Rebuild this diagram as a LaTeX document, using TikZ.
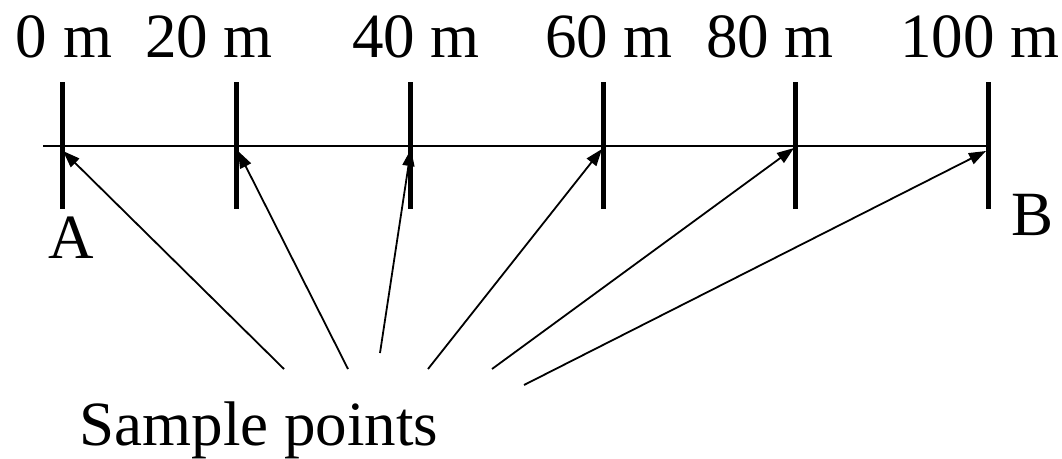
\documentclass[tikz,border=0pt]{standalone}
\usepackage{fontspec}
\setmainfont{Liberation Serif}
\usetikzlibrary{arrows.meta}
\begin{document}
\begin{tikzpicture}[x=1pt,y=-1pt,
  lbl/.style={inner sep=0pt,anchor=base,font=\fontsize{63}{70}\selectfont},
  tickline/.style={line width=5pt},
  axisline/.style={line width=2.5pt},
  ptr/.style={line width=1.8pt,-{Triangle[length=17pt,width=12pt]}}]
\useasboundingbox (0,0) rectangle (1062,458);
% axis
\coordinate (L) at (43,146);
\coordinate (R) at (988,146);
\draw[axisline] (L) -- (R);
% ticks
\foreach \n/\x in {0/62,1/236,2/410,3/603,4/795,5/988}{
  \coordinate (t\n) at (\x,146);
  \coordinate (tt\n) at (\x,82);
  \coordinate (tb\n) at (\x,209);
  \draw[tickline] (tt\n) -- (tb\n);
}
% labels
\node[lbl] (l0) at (64,57) {0 m};
\node[lbl] (l1) at (209,57) {20 m};
\node[lbl] (l2) at (416,57) {40 m};
\node[lbl] (l3) at (609,57) {60 m};
\node[lbl] (l4) at (770,57) {80 m};
\node[lbl] (l5) at (980,57) {100 m};
\node[lbl] (A) at (71,258) {A};
\node[lbl] (B) at (1032,235) {B};
\node[lbl] (S) at (259,445) {Sample points};
% arrow start points
\coordinate (s0) at (284,369);
\coordinate (s1) at (348,369);
\coordinate (s2) at (380,353);
\coordinate (s3) at (428,369);
\coordinate (s4) at (492,369);
\coordinate (s5) at (524,385);
% arrow tips
\coordinate (e0) at (63,151);
\coordinate (e1) at (238,151);
\coordinate (e2) at (411,149);
\coordinate (e3) at (602,149);
\coordinate (e4) at (794,148);
\coordinate (e5) at (986,151);
\foreach \n in {0,...,5}{
  \draw[ptr] (s\n) -- (e\n);
}
\end{tikzpicture}
\end{document}
